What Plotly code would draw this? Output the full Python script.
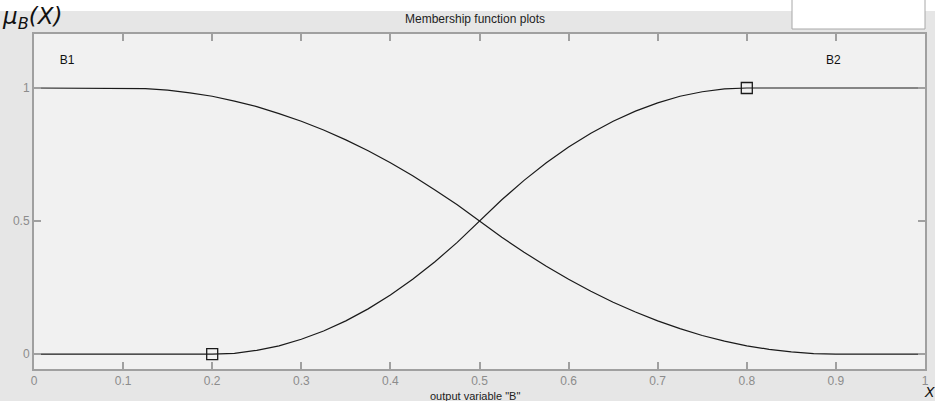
import plotly.graph_objects as go

# Data
x_vals = [0, 0.05, 0.1, 0.125, 0.15, 0.175, 0.2, 0.225, 0.25, 0.275, 0.3,
          0.325, 0.35, 0.375, 0.4, 0.425, 0.45, 0.475, 0.5,
          0.525, 0.55, 0.575, 0.6, 0.625, 0.65, 0.675, 0.7,
          0.725, 0.75, 0.775, 0.8, 0.825, 0.85, 0.875, 0.9, 0.95, 1.0]
b1_vals = [1.0, 1.0, 1.0, 0.998, 0.992, 0.982, 0.969, 0.951, 0.93, 0.904, 0.875,
           0.842, 0.805, 0.764, 0.719, 0.67, 0.617, 0.561, 0.5,
           0.439, 0.383, 0.33, 0.281, 0.236, 0.195, 0.158, 0.125,
           0.096, 0.07, 0.049, 0.031, 0.018, 0.008, 0.002, 0.0, 0.0, 0.0]
b2_vals = [0.0, 0.0, 0.0, 0.0, 0.0, 0.0, 0.0, 0.003, 0.014, 0.031, 0.056,
           0.087, 0.125, 0.17, 0.222, 0.281, 0.347, 0.42, 0.5,
           0.58, 0.653, 0.719, 0.778, 0.83, 0.875, 0.913, 0.944,
           0.969, 0.986, 0.997, 1.0, 1.0, 1.0, 1.0, 1.0, 1.0, 1.0]
marker_x = [0.2, 0.8]
marker_y = [0.0, 1.0]
mf_names = ["B1", "B2"]
mf_label_x = [0.037, 0.897]
mf_label_y = [1.10, 1.10]
x_ticks = [0, 0.1, 0.2, 0.3, 0.4, 0.5, 0.6, 0.7, 0.8, 0.9, 1]
x_tick_text = ["0", "0.1", "0.2", "0.3", "0.4", "0.5", "0.6", "0.7", "0.8", "0.9", "1"]
y_ticks = [0, 0.5, 1]
y_tick_text = ["0", "0.5", "1"]

W, H = 935, 401
ML, MR, MT, MB = 34, 10, 34, 32
PW = W - ML - MR
PH = H - MT - MB


def px_x(p):
    return (p - ML) / PW


def px_y(p):
    return (H - MB - p) / PH


fig = go.Figure()
fig.add_trace(go.Scatter(x=x_vals, y=b1_vals, mode="lines",
                         line=dict(color="#1a1a1a", width=1.2),
                         hoverinfo="skip", showlegend=False))
fig.add_trace(go.Scatter(x=x_vals, y=b2_vals, mode="lines",
                         line=dict(color="#1a1a1a", width=1.2),
                         hoverinfo="skip", showlegend=False))
fig.add_trace(go.Scatter(x=marker_x, y=marker_y, mode="markers",
                         marker=dict(symbol="square-open", size=11,
                                     color="#1a1a1a", line=dict(width=1.3)),
                         hoverinfo="skip", showlegend=False))
fig.add_trace(go.Scatter(x=mf_label_x, y=mf_label_y, mode="text",
                         text=mf_names, textposition="middle center",
                         textfont=dict(family="Liberation Sans, Arial", size=12, color="#111"),
                         hoverinfo="skip", showlegend=False))

shapes = [
    # white strip along the top
    dict(type="rect", xref="paper", yref="paper",
         x0=px_x(-5), x1=px_x(W + 5), y0=px_y(11), y1=px_y(-5),
         fillcolor="white", line=dict(width=0), layer="below"),
    # white box top right
    dict(type="rect", xref="paper", yref="paper",
         x0=px_x(792), x1=px_x(925), y0=px_y(29), y1=px_y(-3),
         fillcolor="white", line=dict(color="#a8a8a8", width=1), layer="below"),
]

annotations = [
    dict(text="Membership function plots", xref="paper", yref="paper",
         x=px_x(475), y=px_y(19), xanchor="center", yanchor="middle",
         showarrow=False, font=dict(family="Liberation Sans, Arial", size=12, color="#222")),
    dict(text="output variable \"B\"", xref="paper", yref="paper",
         x=px_x(475), y=px_y(388), xanchor="center", yanchor="top",
         showarrow=False, font=dict(family="Liberation Sans, Arial", size=11, color="#222")),
    dict(text="<i>μ</i><sub><i>B</i></sub><i>(X)</i>", xref="paper", yref="paper",
         x=px_x(0), y=px_y(1), xanchor="left", yanchor="top",
         showarrow=False, font=dict(family="DejaVu Sans, Liberation Sans", size=23, color="#111")),
    dict(text="<i>X</i>", xref="paper", yref="paper",
         x=px_x(937), y=px_y(402), xanchor="right", yanchor="bottom",
         showarrow=False, font=dict(family="DejaVu Sans, Liberation Sans", size=14, color="#111")),
]

axis_common = dict(
    showgrid=False, zeroline=False, showline=True, mirror="ticks",
    linecolor="#a0a0a0", linewidth=2, ticks="inside", ticklen=7,
    tickcolor="#a0a0a0", tickwidth=1.5, automargin=False,
    tickfont=dict(family="Liberation Sans, Arial", size=12, color="#8c8c8c"),
    fixedrange=True,
)

fig.update_layout(
    width=W, height=H,
    margin=dict(l=ML, r=MR, t=MT, b=MB, pad=0),
    paper_bgcolor="#e6e6e6",
    plot_bgcolor="#f1f1f1",
    shapes=shapes,
    annotations=annotations,
    xaxis=dict(range=[0, 1], tickvals=x_ticks, ticktext=x_tick_text, **axis_common),
    yaxis=dict(range=[-0.056, 1.203], tickvals=y_ticks, ticktext=y_tick_text, **axis_common),
)

fig.write_html("out.html", config={"displayModeBar": False},
               post_script="document.body.style.margin='0';document.body.style.overflow='hidden';")
